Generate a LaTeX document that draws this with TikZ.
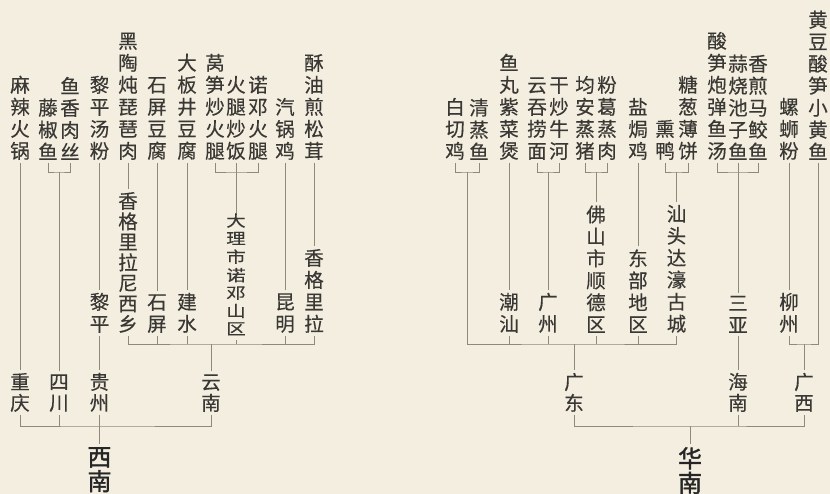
\documentclass[tikz,border=0pt]{standalone}
\usepackage{fontspec}
\usepackage{graphicx}
\setmainfont{Noto Sans CJK SC}[FakeBold=0.35]
\newfontfamily\regionfont[FakeBold=1.5]{Noto Sans CJK SC}
\definecolor{paper}{HTML}{F3EEE0}
\definecolor{ink}{HTML}{3A3834}
\definecolor{linec}{HTML}{8E8A78}
\tikzset{
  dish/.style={font=\fontsize{19.5}{22}\selectfont, align=center, inner xsep=0pt, inner ysep=3pt, anchor=south, text=ink},
  city/.style={dish},
  prov/.style={dish, font=\fontsize{19.5}{21}\selectfont},
  region/.style={font=\regionfont\fontsize{24}{24.5}\selectfont, align=center, inner xsep=0pt, inner ysep=3pt, anchor=north, text=black!85},
  link/.style={draw=linec, line width=0.8pt}
}
\begin{document}
\begin{tikzpicture}[x=1pt,y=-1pt]
\fill[paper] (0,0) rectangle (830,494);
\useasboundingbox (0,0) rectangle (830,494);
\clip (0,0) rectangle (830,494);

% ---------- 西南 ----------
\node[dish] (d1) at (20,163) {麻\\辣\\火\\锅};
\node[dish] (d2) at (48,163) {藤\\椒\\鱼};
\node[dish] (d3) at (70,163) {鱼\\香\\肉\\丝};
\node[dish] (d4) at (99.5,163) {黎\\平\\汤\\粉};
\node[dish] (d5) at (128,163) {黑\\陶\\炖\\琵\\琶\\肉};
\node[dish] (d6) at (157,163) {石\\屏\\豆\\腐};
\node[dish] (d7) at (187,163) {大\\板\\井\\豆\\腐};
\node[dish] (d8) at (215,163) {莴\\笋\\炒\\火\\腿};
\node[dish] (d9) at (236,163) {火\\腿\\炒\\饭};
\node[dish] (d10) at (258,163) {诺\\邓\\火\\腿};
\node[dish] (d11) at (285,163) {汽\\锅\\鸡};
\node[dish] (d12) at (314,163) {酥\\油\\煎\\松\\茸};

\node[city] (c1) at (99.5,336) {黎\\平};
\node[city, font=\fontsize{19.5}{20.5}\selectfont] (c2) at (128,336) {香\\格\\里\\拉\\尼\\西\\乡};
\node[city] (c3) at (157,336) {石\\屏};
\node[city] (c4) at (187,336) {建\\水};
\node[city, inner ysep=0pt] (c5) at (236,340) {\scalebox{1}[0.8]{\begin{tabular}{@{}c@{}}大\\理\\市\\诺\\邓\\山\\区\end{tabular}}};
\node[city] (c6) at (285,336) {昆\\明};
\node[city] (c7) at (314,336) {香\\格\\里\\拉};

\node[prov] (p1) at (20,415) {重\\庆};
\node[prov] (p2) at (59,415) {四\\川};
\node[prov] (p3) at (99.5,415) {贵\\州};
\node[prov] (p4) at (211,415) {云\\南};
\node[region] (r1) at (99.5,444) {西\\南};

\coordinate (b1) at (59,172);
\coordinate (b2) at (236,172);
\coordinate (b3) at (211,344);
\coordinate (b4) at (99.5,426);

\draw[link] (d1.south) -- (p1.north);
\draw[link] (d2.south) |- (b1) -| (d3.south);
\draw[link] (b1) -- (p2.north);
\draw[link] (d4.south) -- (c1.north);
\draw[link] (c1.south) -- (p3.north);
\draw[link] (d5.south) -- (c2.north);
\draw[link] (d6.south) -- (c3.north);
\draw[link] (d7.south) -- (c4.north);
\draw[link] (d8.south) |- (b2) -| (d10.south);
\draw[link] (d9.south) -- (c5.north);
\draw[link] (d11.south) -- (c6.north);
\draw[link] (d12.south) -- (c7.north);
\draw[link] (c2.south) |- (b3) -| (c7.south);
\foreach \n in {c3,c4,c5,c6} \draw[link] (\n.south) -- (\n.south |- b3);
\draw[link] (b3) -- (p4.north);
\draw[link] (p1.south) |- (b4) -| (p4.south);
\draw[link] (p2.south) -- (p2.south |- b4);
\draw[link] (p3.south) -- (r1.north);

% ---------- 华南 ----------
\node[dish] (e1) at (455,163) {白\\切\\鸡};
\node[dish] (e2) at (479,163) {清\\蒸\\鱼};
\node[dish] (e3) at (509,163) {鱼\\丸\\紫\\菜\\煲};
\node[dish] (e4) at (537,163) {云\\吞\\捞\\面};
\node[dish] (e5) at (559,163) {干\\炒\\牛\\河};
\node[dish] (e6) at (585,163) {均\\安\\蒸\\猪};
\node[dish] (e7) at (607,163) {粉\\葛\\蒸\\肉};
\node[dish] (e8) at (638,163) {盐\\焗\\鸡};
\node[dish] (e9) at (665,163) {熏\\鸭};
\node[dish] (e10) at (688,163) {糖\\葱\\薄\\饼};
\node[dish] (e11) at (717,163) {酸\\笋\\炮\\弹\\鱼\\汤};
\node[dish] (e12) at (738,163) {蒜\\烧\\池\\子\\鱼};
\node[dish] (e13) at (758,163) {香\\煎\\马\\鲛\\鱼};
\node[dish] (e14) at (789,163) {螺\\蛳\\粉};
\node[dish] (e15) at (818,163) {黄\\豆\\酸\\笋\\小\\黄\\鱼};

\node[city] (f1) at (509,336) {潮\\汕};
\node[city] (f2) at (548,336) {广\\州};
\node[city] (f3) at (596,336) {佛\\山\\市\\顺\\德\\区};
\node[city] (f4) at (638,336) {东\\部\\地\\区};
\node[city] (f5) at (676.5,336) {汕\\头\\达\\濠\\古\\城};
\node[city] (f6) at (738,336) {三\\亚};
\node[city] (f7) at (789,336) {柳\\州};

\node[prov] (q1) at (574,415) {广\\东};
\node[prov] (q2) at (738,415) {海\\南};
\node[prov] (q3) at (804,415) {广\\西};
\node[region] (r2) at (690,444) {华\\南};

\coordinate (g1) at (467,172);
\coordinate (g2) at (548,172);
\coordinate (g3) at (596,172);
\coordinate (g4) at (676.5,172);
\coordinate (g5) at (738,172);
\coordinate (h1) at (574,344);
\coordinate (h2) at (804,344);
\coordinate (k1) at (690,426);

\draw[link] (e1.south) |- (g1) -| (e2.south);
\draw[link] (e3.south) -- (f1.north);
\draw[link] (e4.south) |- (g2) -| (e5.south);
\draw[link] (g2) -- (f2.north);
\draw[link] (e6.south) |- (g3) -| (e7.south);
\draw[link] (g3) -- (f3.north);
\draw[link] (e8.south) -- (f4.north);
\draw[link] (e9.south) |- (g4) -| (e10.south);
\draw[link] (g4) -- (f5.north);
\draw[link] (e11.south) |- (g5) -| (e13.south);
\draw[link] (e12.south) -- (f6.north);
\draw[link] (e14.south) -- (f7.north);
\draw[link] (g1) |- (h1) -| (f5.south);
\foreach \n in {f1,f2,f3,f4} \draw[link] (\n.south) -- (\n.south |- h1);
\draw[link] (h1) -- (q1.north);
\draw[link] (f6.south) -- (q2.north);
\draw[link] (f7.south) |- (h2) -| (e15.south);
\draw[link] (h2) -- (q3.north);
\draw[link] (q1.south) |- (k1) -| (q3.south);
\draw[link] (q2.south) -- (q2.south |- k1);
\draw[link] (k1) -- (r2.north);
\end{tikzpicture}
\end{document}
